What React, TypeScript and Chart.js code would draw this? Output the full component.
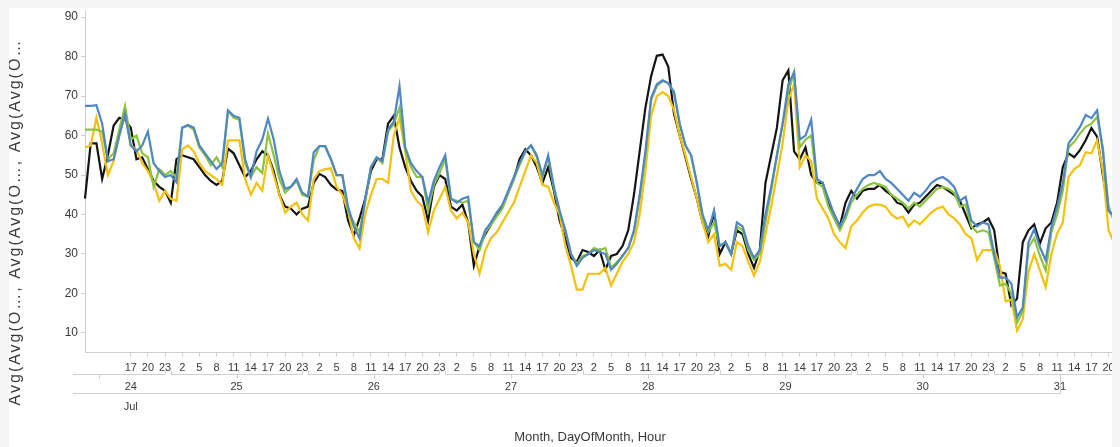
import React, { useEffect, useRef } from "react";
import { Chart, registerables } from "chart.js";

Chart.register(...registerables);

// ---- categories ----
const FIRST_DAY = 24;
const FIRST_HOUR = 9;
const LAST_DAY = 31;
const LAST_HOUR = 22;
const MONTH_LABEL = "Jul";
const HOUR_TICK_LABELS = [2, 5, 8, 11, 14, 17, 20, 23];
const FIRST_LABELED_HOUR = 17; // first hour label shown on the first (partial) day
const Y_TICKS = [10, 20, 30, 40, 50, 60, 70, 80, 90];
const Y_TITLE = "Avg(Avg(O…, Avg(Avg(O…, Avg(Avg(O…";
const X_TITLE = "Month, DayOfMonth, Hour";

// ---- series values (hourly, Jul 24 09h .. Jul 31 22h) ----
const seriesBlue = [
  // 24
  67.5, 67.5, 67.7, 63, 53.5, 54, 60, 65.5, 57.5, 56, 57.5, 61, 53, 51, 49.5,
  // 25
  50, 48.2, 62, 62.7, 62, 57.5, 55.5, 53.5, 51.5, 53, 66.4, 65, 64.5, 54, 49.5, 56, 59, 64.3, 59, 51, 46.5, 47, 49, 45.5,
  // 26
  44.6, 55.8, 57.3, 57.3, 54, 50, 50, 42, 37, 34, 44, 52, 54.5, 53.5, 61.5, 63.5, 72.5, 57, 53, 51, 49.5, 43, 48.5, 52,
  // 27
  55, 44, 43, 44, 44.5, 33, 32, 36, 38, 40.5, 42.5, 46, 49.5, 53, 56, 57.5, 55, 50, 55, 47, 41, 36, 30, 27,
  // 28
  29, 30, 31, 30.5, 30, 26, 27.5, 29.5, 31.5, 36, 45, 56, 69.5, 73, 74, 73.3, 71, 63, 57.5, 55, 48, 40, 36, 41,
  // 29
  32, 33, 30, 38, 37, 32, 29, 31, 40, 47, 55, 63, 73, 76, 59, 60, 64, 49, 48, 44, 40, 37, 40, 44,
  // 30
  46.5, 49, 50, 50, 51, 49, 48, 46.5, 45, 43.5, 45.5, 44.5, 46, 48, 49, 49.5, 48.5, 47, 43.5, 44.5, 38.5, 37, 38, 37.5,
  // 31
  30, 24, 24, 22.5, 14, 16.4, 33, 36.3, 31.7, 28.4, 36.8, 41.9, 47.9, 58, 60, 62.2, 65.2, 64.4, 66.4, 56, 41, 39.5, 40,
];

const seriesGreen = [
  // 24
  61.5, 61.5, 61.5, 61, 54, 55.5, 61.5, 67.5, 59, 60, 55.5, 54.5, 47, 51.5, 50,
  // 25
  51, 49.3, 62, 62.5, 61.5, 57, 55, 52.5, 54.5, 52, 66.3, 64.5, 64, 53, 49.5, 52, 50.5, 60.5, 55, 49, 45.5, 47, 48.5, 45,
  // 26
  44.5, 53.8, 57.3, 57.3, 54, 50, 50, 41, 38, 35.5, 43, 52, 54.5, 53, 61, 63, 67, 56.5, 52, 49.5, 49.5, 41, 47.5, 50.5,
  // 27
  54, 44, 43.5, 43, 43.5, 33, 31, 35.5, 37.5, 39.5, 41.5, 45.5, 49, 52.5, 56, 57.5, 54.5, 49.5, 54.5, 46.5, 40.5, 36, 30, 27.5,
  // 28
  29.5, 30, 31.5, 31, 31.5, 26.5, 28, 29.5, 31.5, 35.5, 44, 55, 69, 72.5, 73.8, 73.3, 71, 63, 57.5, 55, 48, 39.5, 35.5, 38,
  // 29
  32, 33, 30, 37, 36, 31, 28.5, 30, 38, 46, 55, 63, 71, 76, 57, 59, 60, 48, 47, 42, 39, 36, 39, 43,
  // 30
  45, 46.5, 47.5, 48, 47.5, 47, 45, 44, 43, 41.5, 43, 42, 43.5, 45, 46.5, 47, 46.5, 45.5, 42, 42.5, 37, 35.5, 36, 35.5,
  // 31
  29, 22, 22.5, 20, 12.6, 15.5, 31.7, 34, 29.5, 25.8, 35.5, 40, 46, 57, 58.4, 60.5, 62.2, 63, 64.7, 57, 42, 38, 37,
];

const seriesYellow = [
  // 24
  57, 57.5, 64.5, 58, 50, 53.5, 60, 65.5, 57.5, 56.5, 53, 51, 48, 43.5, 46,
  // 25
  44, 43.5, 56.5, 57.5, 56, 53, 51, 50, 49, 47.5, 58.8, 58.8, 58.8, 49, 45, 48, 46, 55, 50, 45, 40.5, 42, 43, 40,
  // 26
  38.5, 49, 51, 51.5, 51.7, 47, 45, 41, 34, 31.4, 40, 45, 49, 49, 48, 60, 64.5, 56, 46, 43.5, 42, 35.5, 41, 44,
  // 27
  47, 41, 39, 40.5, 38, 30, 25, 31, 34, 35.5, 38, 40.5, 43, 47, 51, 55, 53, 47.5, 47, 43, 40, 32, 27, 21,
  // 28
  21, 25, 25, 25, 26.5, 22, 25, 28, 30, 33, 40, 51, 65, 70, 71, 70, 66.5, 60, 55, 49.5, 44, 38, 33, 35,
  // 29
  27, 27.5, 26, 33, 32, 28, 24.5, 28, 35, 42, 50, 58, 69, 73, 52, 55, 53.5, 44, 41.5, 39, 35, 33, 31.5, 37,
  // 30
  38.5, 40.5, 42, 42.5, 42.5, 42, 40, 39, 39.5, 37, 38.5, 37.5, 39, 40.5, 41.5, 42, 40, 39, 37.5, 35, 34, 28.5, 31, 31,
  // 31
  31, 27, 18, 18.5, 10.6, 13.5, 25.5, 30, 25.8, 21.6, 30, 35.2, 38, 49.5, 51.5, 52.5, 55.8, 55.5, 58.8, 51, 36, 32.7, 32,
];

const seriesBlack = [
  // 24
  44, 58, 58, 49, 55, 62.5, 64.5, 64, 62, 54, 54.5, 51.5, 48.5, 47, 46,
  // 25
  43, 54, 55, 54.5, 54, 52, 50, 48.5, 47.5, 48.5, 56.7, 55.5, 52.5, 49.5, 51, 54, 56, 55, 51, 45, 42, 41.5, 40, 41.5,
  // 26
  42, 48, 50.3, 49.5, 47.5, 46.3, 46, 38.5, 34.7, 39, 44, 51, 54, 54, 63, 65, 57, 52, 48.5, 46, 44.5, 38.5, 47, 50,
  // 27
  49, 42, 41, 42.5, 38, 27, 32, 35, 37.5, 40, 42, 45.5, 49, 54, 56.5, 55, 52, 48, 52, 46, 38.5, 34, 29, 28,
  // 28
  31, 30.5, 29.5, 31, 26, 29.5, 30, 32, 36, 45, 56, 67, 75, 80.2, 80.5, 77.5, 65.5, 60, 54.5, 49, 44, 38, 34.5, 40.5,
  // 29
  30, 33, 30, 36, 35, 30, 26.5, 31, 48, 55, 62, 74, 76.5, 56, 54, 57, 50, 48, 48, 43, 40, 37, 43, 46,
  // 30
  44, 46, 46.5, 46.5, 47.5, 46, 45, 43, 42.5, 40.5, 42.5, 43, 44.5, 46, 47.5, 47, 46, 45, 43.5, 40, 36.5, 37.5, 38, 39,
  // 31
  36, 25.4, 25, 17, 18.7, 33, 36, 37.5, 32.7, 36.5, 38, 43, 52, 55.5, 54.5, 56.3, 58.8, 61.9, 59.7, 50, 41, 39.3, 38,
];

const SERIES = [
  { name: "Avg(Avg(O... 1", data: seriesBlue, color: "#4f86c4" },
  { name: "Avg(Avg(O... 2", data: seriesGreen, color: "#8cc43f" },
  { name: "Avg(Avg(O... 3", data: seriesYellow, color: "#f4c20d" },
  { name: "Avg(Avg(O... 4", data: seriesBlack, color: "#141414" },
];

type Cat = { day: number; hour: number };
const categories: Cat[] = [];
for (let d = FIRST_DAY; d <= LAST_DAY; d++) {
  const h0 = d === FIRST_DAY ? FIRST_HOUR : 0;
  const h1 = d === LAST_DAY ? LAST_HOUR : 23;
  for (let h = h0; h <= h1; h++) categories.push({ day: d, hour: h });
}
const DAYS: number[] = [];
for (let d = FIRST_DAY; d <= LAST_DAY; d++) DAYS.push(d);

const FONT = "'Liberation Sans', Arial, sans-serif";
const TEXT = "#3a3a3a";
const LINE = "#cfcfcf";

function isLabeled(i: number) {
  const c = categories[i];
  if (!c) return false;
  if (!HOUR_TICK_LABELS.includes(c.hour)) return false;
  if (c.day === FIRST_DAY && c.hour < FIRST_LABELED_HOUR) return false;
  return true;
}

const headerPlugin = {
  id: "headers",
  afterDraw(chart: any) {
    const ctx: CanvasRenderingContext2D = chart.ctx;
    const xs = chart.scales.x;
    const px = (i: number) => xs.getPixelForValue(i);
    const step = px(1) - px(0);
    const W = chart.width;
    const bracketY = 369.5;
    const dayLabelY = 382;
    const monthLineY = 388.5;
    const monthLabelY = 402;
    const headerLeft = 64;

    ctx.save();
    ctx.strokeStyle = LINE;
    ctx.lineWidth = 1;
    ctx.fillStyle = TEXT;
    ctx.font = `11px ${FONT}`;
    ctx.textAlign = "center";
    ctx.textBaseline = "middle";

    let lastCenter = 0;
    let firstLabelX = 0;
    DAYS.forEach((d) => {
      const first = categories.findIndex((c) => c.day === d);
      let last = first;
      while (last + 1 < categories.length && categories[last + 1].day === d) last++;
      const startH = categories[first].hour;
      const startB = d === FIRST_DAY ? headerLeft : px(first) - step / 2 + 3;
      const endB = d === LAST_DAY ? W : px(last) + step / 2 - 3;
      ctx.beginPath();
      ctx.moveTo(startB, bracketY);
      ctx.lineTo(endB, bracketY);
      if (d !== FIRST_DAY) {
        ctx.moveTo(Math.round(startB) + 0.5, bracketY);
        ctx.lineTo(Math.round(startB) + 0.5, bracketY - 4);
      }
      if (d !== LAST_DAY) {
        ctx.moveTo(Math.round(endB) + 0.5, bracketY);
        ctx.lineTo(Math.round(endB) + 0.5, bracketY - 4);
      }
      const center = px(first) + (11.5 - startH) * step;
      ctx.moveTo(Math.round(center) + 0.5, bracketY);
      ctx.lineTo(Math.round(center) + 0.5, bracketY + 4);
      ctx.stroke();
      let labelX = center;
      if (d === FIRST_DAY) {
        const idx = categories.findIndex((c) => c.day === d && c.hour === FIRST_LABELED_HOUR);
        labelX = px(idx);
        firstLabelX = labelX;
      }
      ctx.fillText(String(d), labelX, dayLabelY);
      lastCenter = center;
    });

    // month bracket
    ctx.beginPath();
    ctx.moveTo(headerLeft, monthLineY);
    ctx.lineTo(Math.round(lastCenter) + 0.5, monthLineY);
    ctx.lineTo(Math.round(lastCenter) + 0.5, bracketY);
    ctx.stroke();
    ctx.fillText(MONTH_LABEL, firstLabelX, monthLabelY);

    // x title
    ctx.font = `13px ${FONT}`;
    ctx.fillText(X_TITLE, 581, 432);

    // y title
    ctx.translate(11, 217);
    ctx.rotate(-Math.PI / 2);
    ctx.font = `16px ${FONT}`;
    (ctx as any).letterSpacing = "2px";
    ctx.textBaseline = "alphabetic";
    ctx.fillText(Y_TITLE, 0, 0);
    ctx.restore();
  },
};

export default function App() {
  const ref = useRef<HTMLCanvasElement | null>(null);

  useEffect(() => {
    document.body.style.background = "#f5f5f5";
    const canvas = ref.current;
    if (!canvas) return;
    const chart = new Chart(canvas, {
      type: "line",
      data: {
        labels: categories.map((c) => `${c.day}-${c.hour}`),
        datasets: SERIES.map((s) => ({
          label: s.name,
          data: s.data,
          borderColor: s.color,
          backgroundColor: s.color,
          borderWidth: 2.2,
          pointRadius: 0,
          pointHoverRadius: 0,
          tension: 0,
          fill: false,
        })),
      },
      options: {
        animation: false,
        responsive: false,
        devicePixelRatio: 1,
        events: [],
        layout: { padding: { top: 5, left: 0, right: 0, bottom: 0 } },
        plugins: {
          legend: { display: false },
          title: { display: false },
          tooltip: { enabled: false },
        },
        scales: {
          x: {
            type: "category",
            offset: false,
            grid: {
              drawOnChartArea: false,
              drawTicks: true,
              tickLength: 4,
              color: (c: any) => (isLabeled(c.index) ? LINE : "rgba(0,0,0,0)"),
            },
            border: { display: true, color: LINE },
            ticks: {
              autoSkip: false,
              maxRotation: 0,
              minRotation: 0,
              padding: 5,
              color: TEXT,
              font: { family: FONT, size: 11 },
              callback: (_v: any, i: number) => (isLabeled(i) ? String(categories[i].hour) : ""),
            },
            afterFit: (s: any) => {
              s.height = 94.3;
              s.paddingLeft = 0;
              s.paddingRight = 0;
            },
          },
          y: {
            type: "linear",
            min: 5,
            max: 91.8,
            grid: {
              drawOnChartArea: false,
              drawTicks: true,
              tickLength: 4,
              color: LINE,
            },
            border: { display: true, color: LINE },
            ticks: {
              padding: 3,
              color: TEXT,
              font: { family: FONT, size: 12 },
            },
            afterBuildTicks: (s: any) => {
              s.ticks = Y_TICKS.map((v) => ({ value: v }));
            },
            afterFit: (s: any) => {
              s.width = 76;
              s.paddingTop = 0;
              s.paddingBottom = 0;
            },
          },
        },
      },
      plugins: [headerPlugin],
    } as any);
    return () => chart.destroy();
  }, []);

  return (
    <div style={{ marginTop: -3, marginLeft: 1, width: 1111, height: 442, background: "#ffffff", overflow: "hidden" }}>
      <canvas ref={ref} width={1111} height={442} style={{ display: "block" }} />
    </div>
  );
}
